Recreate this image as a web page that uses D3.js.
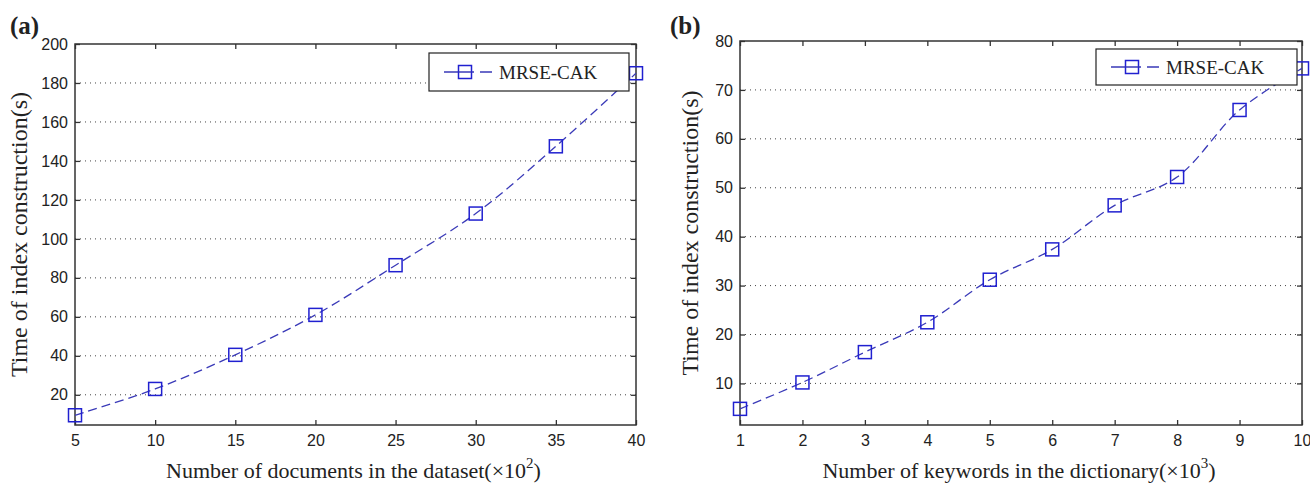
<!DOCTYPE html>
<html>
<head>
<meta charset="utf-8">
<script src="https://cdn.jsdelivr.net/npm/d3@7"></script>
<style>
  body { margin: 0; background: #fff; }
  svg text { fill: #222; }
</style>
</head>
<body>
<div id="chart"></div>
<script>
// panel (a): documents
const docsX = [5, 10, 15, 20, 25, 30, 35, 40];
const docsTime = [9.5, 23, 40.5, 61, 86.5, 113, 147.5, 185];
const docsYTicks = [20, 40, 60, 80, 100, 120, 140, 160, 180, 200];

// panel (b): keywords
const kwX = [1, 2, 3, 4, 5, 6, 7, 8, 9, 10];
const kwTime = [4.8, 10.2, 16.4, 22.5, 31.2, 37.4, 46.4, 52.2, 65.9, 74.4];
const kwYTicks = [10, 20, 30, 40, 50, 60, 70, 80];

const seriesName = "MRSE-CAK";
const yTitle = "Time of index construction(s)";

const W = 1310, H = 488;
const LINE = "#3a3ab8", MARK = "#2020d0";
const SERIF = "Liberation Serif, Times New Roman, serif";

const svg = d3.select("#chart").append("svg").attr("width", W).attr("height", H);

function drawPanel(p) {
    const x = d3.scaleLinear().domain(p.xDomain).range([p.left, p.right]);
    const y = d3.scaleLinear().domain(p.yDomain).range([p.bottom, p.top]);
    const g = svg.append("g");

    // dotted grid
    g.selectAll("line.grid").data(p.yTicks.filter(v => v < p.yDomain[1])).enter().append("line")
        .attr("x1", p.left).attr("x2", p.right).attr("y1", d => y(d)).attr("y2", d => y(d))
        .attr("stroke", "#444").attr("stroke-width", 1).attr("stroke-dasharray", "1,4");

    // axes, ticks inside and mirrored
    const tk = 5;
    g.append("g").attr("transform", `translate(0,${p.bottom})`)
        .call(d3.axisBottom(x).tickValues(p.xTicks).tickSizeInner(-tk).tickSizeOuter(0).tickPadding(10))
        .call(a => a.select(".domain").remove());
    g.append("g").attr("transform", `translate(0,${p.top})`)
        .call(d3.axisTop(x).tickValues(p.xTicks).tickSizeInner(-tk).tickSizeOuter(0).tickFormat(""))
        .call(a => a.select(".domain").remove());
    g.append("g").attr("transform", `translate(${p.left},0)`)
        .call(d3.axisLeft(y).tickValues(p.yTicks).tickSizeInner(-tk).tickSizeOuter(0).tickPadding(7))
        .call(a => a.select(".domain").remove());
    g.append("g").attr("transform", `translate(${p.right},0)`)
        .call(d3.axisRight(y).tickValues(p.yTicks).tickSizeInner(-tk).tickSizeOuter(0).tickFormat(""))
        .call(a => a.select(".domain").remove());
    g.selectAll(".tick line").attr("stroke", "#333").attr("stroke-width", 1.3);
    g.selectAll(".tick text").attr("font-family", "Liberation Sans, Arial, sans-serif")
        .attr("font-size", 16).attr("fill", "#222");

    g.append("rect").attr("x", p.left).attr("y", p.top)
        .attr("width", p.right - p.left).attr("height", p.bottom - p.top)
        .attr("fill", "none").attr("stroke", "#333").attr("stroke-width", 1.5);

    // series
    const pts = p.xs.map((v, i) => [v, p.ys[i]]);
    g.append("path").datum(pts)
        .attr("d", d3.line().x(d => x(d[0])).y(d => y(d[1])).curve(d3.curveCatmullRom.alpha(0.5)))
        .attr("fill", "none").attr("stroke", LINE).attr("stroke-width", 1.3).attr("stroke-dasharray", "9,5");
    const s = 13;
    g.selectAll("rect.mk").data(pts).enter().append("rect")
        .attr("x", d => x(d[0]) - s / 2).attr("y", d => y(d[1]) - s / 2)
        .attr("width", s).attr("height", s)
        .attr("fill", "none").attr("stroke", MARK).attr("stroke-width", 1.5);

    // legend
    const lg = p.legend;
    g.append("rect").attr("x", lg.x).attr("y", lg.y).attr("width", lg.w).attr("height", lg.h)
        .attr("fill", "#fff").attr("stroke", "#222").attr("stroke-width", 1.2);
    const ly = lg.y + lg.h / 2;
    g.append("line").attr("x1", lg.x + 15).attr("x2", lg.x + 63).attr("y1", ly).attr("y2", ly)
        .attr("stroke", LINE).attr("stroke-width", 1.5).attr("stroke-dasharray", "30,6,12");
    g.append("rect").attr("x", lg.x + 36 - s / 2).attr("y", ly - s / 2).attr("width", s).attr("height", s)
        .attr("fill", "#fff").attr("stroke", MARK).attr("stroke-width", 1.5);
    g.append("line").attr("x1", lg.x + 36 - s / 2).attr("x2", lg.x + 36 + s / 2).attr("y1", ly).attr("y2", ly)
        .attr("stroke", LINE).attr("stroke-width", 1.5);
    g.append("text").attr("x", lg.x + 70).attr("y", ly + 6.5)
        .attr("font-family", SERIF).attr("font-size", 19)
        .text(seriesName);

    // titles
    g.append("text").attr("transform", `translate(${p.yTitleX},${(p.top + p.bottom) / 2}) rotate(-90)`)
        .attr("text-anchor", "middle").attr("font-family", SERIF)
        .attr("font-size", 24).text(yTitle);
    const xt = g.append("text").attr("x", (p.left + p.right) / 2 - 2).attr("y", 478)
        .attr("text-anchor", "middle").attr("font-family", SERIF)
        .attr("font-size", 22);
    xt.append("tspan").text(p.xTitle + "(\u00d710");
    xt.append("tspan").attr("dy", -10).attr("font-size", 15).text(p.xExp);
    xt.append("tspan").attr("dy", 10).text(")");

    g.append("text").attr("x", p.tagX).attr("y", 34)
        .attr("font-family", SERIF).attr("font-weight", "bold")
        .attr("font-size", 25).attr("fill", "#000").text(p.tag);
}

drawPanel({
    xs: docsX, ys: docsTime, xTicks: docsX, yTicks: docsYTicks,
    xDomain: [5, 40], yDomain: [4.5, 200],
    left: 75, right: 636, top: 44, bottom: 425,
    legend: { x: 429, y: 53, w: 200, h: 38 },
    yTitleX: 27, xTitle: "Number of documents in the dataset", xExp: "2",
    tag: "(a)", tagX: 10
});

drawPanel({
    xs: kwX, ys: kwTime, xTicks: kwX, yTicks: kwYTicks,
    xDomain: [1, 10], yDomain: [1.5, 80],
    left: 740, right: 1302, top: 41, bottom: 425,
    legend: { x: 1096, y: 49, w: 201, h: 36 },
    yTitleX: 698, xTitle: "Number of keywords in the dictionary", xExp: "3",
    tag: "(b)", tagX: 670
});
</script>
</body>
</html>
